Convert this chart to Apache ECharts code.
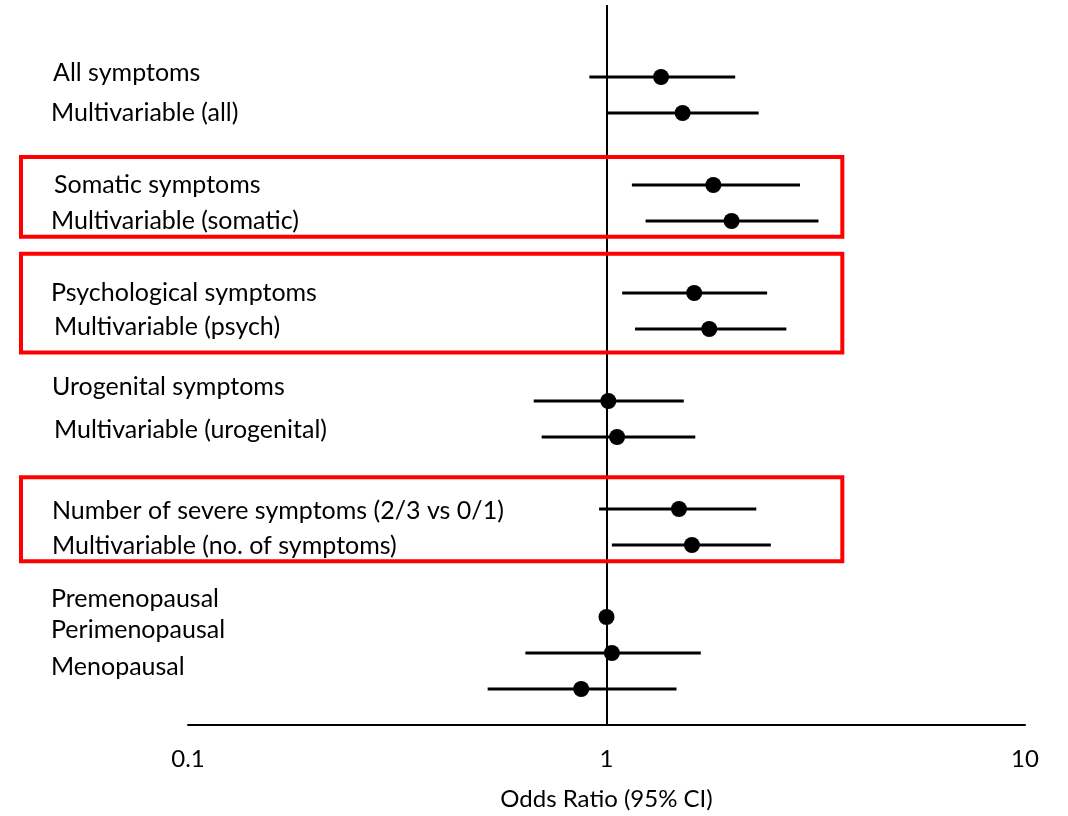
<!DOCTYPE html>
<html>
<head>
<meta charset="utf-8">
<script src="https://cdn.jsdelivr.net/npm/echarts@6/dist/echarts.min.js"></script>
<style>
html,body{margin:0;padding:0;background:#fff;}
#chart{width:1068px;height:816px;}
</style>
</head>
<body>
<div id="chart"></div>
<script>
// Row position (in row units, top to bottom)
const rows = [2, 3, 5, 6, 8, 9, 11, 12, 14, 15, 17, 18, 19];
// Odds ratios and 95% CI bounds
const oddsRatio = [1.35, 1.52, 1.80, 1.99, 1.62, 1.76, 1.01, 1.06, 1.49, 1.60, 1.00, 1.03, 0.87];
const ciLow     = [0.91, 1.00, 1.15, 1.24, 1.09, 1.17, 0.67, 0.70, 0.96, 1.03, null, 0.64, 0.52];
const ciHigh    = [2.03, 2.31, 2.90, 3.21, 2.42, 2.69, 1.53, 1.63, 2.28, 2.47, null, 1.68, 1.47];
// Row labels and their vertical positions (row units)
const labels = ["All symptoms", "Multivariable (all)", "Somatic symptoms", "Multivariable (somatic)",
  "Psychological symptoms", "Multivariable (psych)", "Urogenital symptoms", "Multivariable (urogenital)",
  "Number of severe symptoms (2/3 vs 0/1)", "Multivariable (no. of symptoms)",
  "Premenopausal", "Perimenopausal", "Menopausal"];
const labelRows = [1.89, 3.0, 5.0, 6.0, 8.0, 8.93, 10.62, 11.79, 14.04, 15.03, 16.5, 17.36, 18.4];
const labelIndent = [53, 51, 54, 51, 51, 54, 52, 54, 52, 52, 51, 51, 51];
// Highlight boxes: [top row, bottom row]
const boxes = [[4.22, 6.44], [6.91, 9.65], [13.12, 15.45]];
const boxRightOR = 3.66;
const xTicks = [0.1, 1, 10];

const FONT = "Lato";
const chart = echarts.init(document.getElementById('chart'));

const ciData = rows.map((r, i) => [ciLow[i], ciHigh[i], r]).filter(d => d[0] != null);
const ptData = rows.map((r, i) => [oddsRatio[i], r]);

chart.setOption({
  animation: false,
  backgroundColor: '#fff',
  grid: {left: 188, right: 43, top: 5, bottom: 90},
  xAxis: {
    type: 'log', logBase: 10, min: 0.1, max: 10,
    position: 'bottom',
    axisLine: {show: true, onZero: false, lineStyle: {color: '#000', width: 2}},
    axisTick: {show: false},
    splitLine: {show: false},
    minorTick: {show: false},
    axisLabel: {
      color: '#000', fontSize: 24, fontFamily: FONT, margin: 22,
      formatter: v => { const m = xTicks.find(t => Math.abs(t - v) / t < 1e-6); return m != null ? String(m) : ''; }
    },
    name: 'Odds Ratio (95% CI)', nameLocation: 'middle', nameGap: 62,
    nameTextStyle: {color: '#000', fontSize: 24, fontFamily: FONT}
  },
  yAxis: {
    type: 'value', inverse: true, min: 0, max: 20, show: false
  },
  series: [
    {
      type: 'custom',
      data: ciData,
      renderItem: (params, api) => {
        const p1 = api.coord([api.value(0), api.value(2)]);
        const p2 = api.coord([api.value(1), api.value(2)]);
        return {type: 'line', shape: {x1: p1[0], y1: p1[1], x2: p2[0], y2: p2[1]},
          style: {stroke: '#000', lineWidth: 3}};
      },
      encode: {x: [0, 1], y: 2},
      z: 3
    },
    {
      type: 'scatter',
      data: ptData,
      symbol: 'circle', symbolSize: 16,
      itemStyle: {color: '#000', opacity: 1},
      z: 4,
      markLine: {
        silent: true, symbol: 'none', label: {show: false},
        lineStyle: {color: '#000', width: 2, type: 'solid'},
        data: [{xAxis: 1}]
      }
    }
  ]
});

const graphics = [];
labels.forEach((t, i) => {
  const y = chart.convertToPixel({yAxisIndex: 0}, labelRows[i]);
  graphics.push({type: 'text', x: labelIndent[i], y: y,
    style: {text: t, fill: '#000', fontSize: 25, fontFamily: FONT, verticalAlign: 'middle', align: 'left'}});
});
const xr = chart.convertToPixel({xAxisIndex: 0}, boxRightOR);
boxes.forEach(b => {
  const y1 = chart.convertToPixel({yAxisIndex: 0}, b[0]);
  const y2 = chart.convertToPixel({yAxisIndex: 0}, b[1]);
  graphics.push({type: 'rect', shape: {x: 21, y: y1, width: xr - 21, height: y2 - y1},
    style: {fill: 'none', stroke: '#ff0000', lineWidth: 4}, z: 10});
});
chart.setOption({graphic: graphics});
</script>
</body>
</html>
